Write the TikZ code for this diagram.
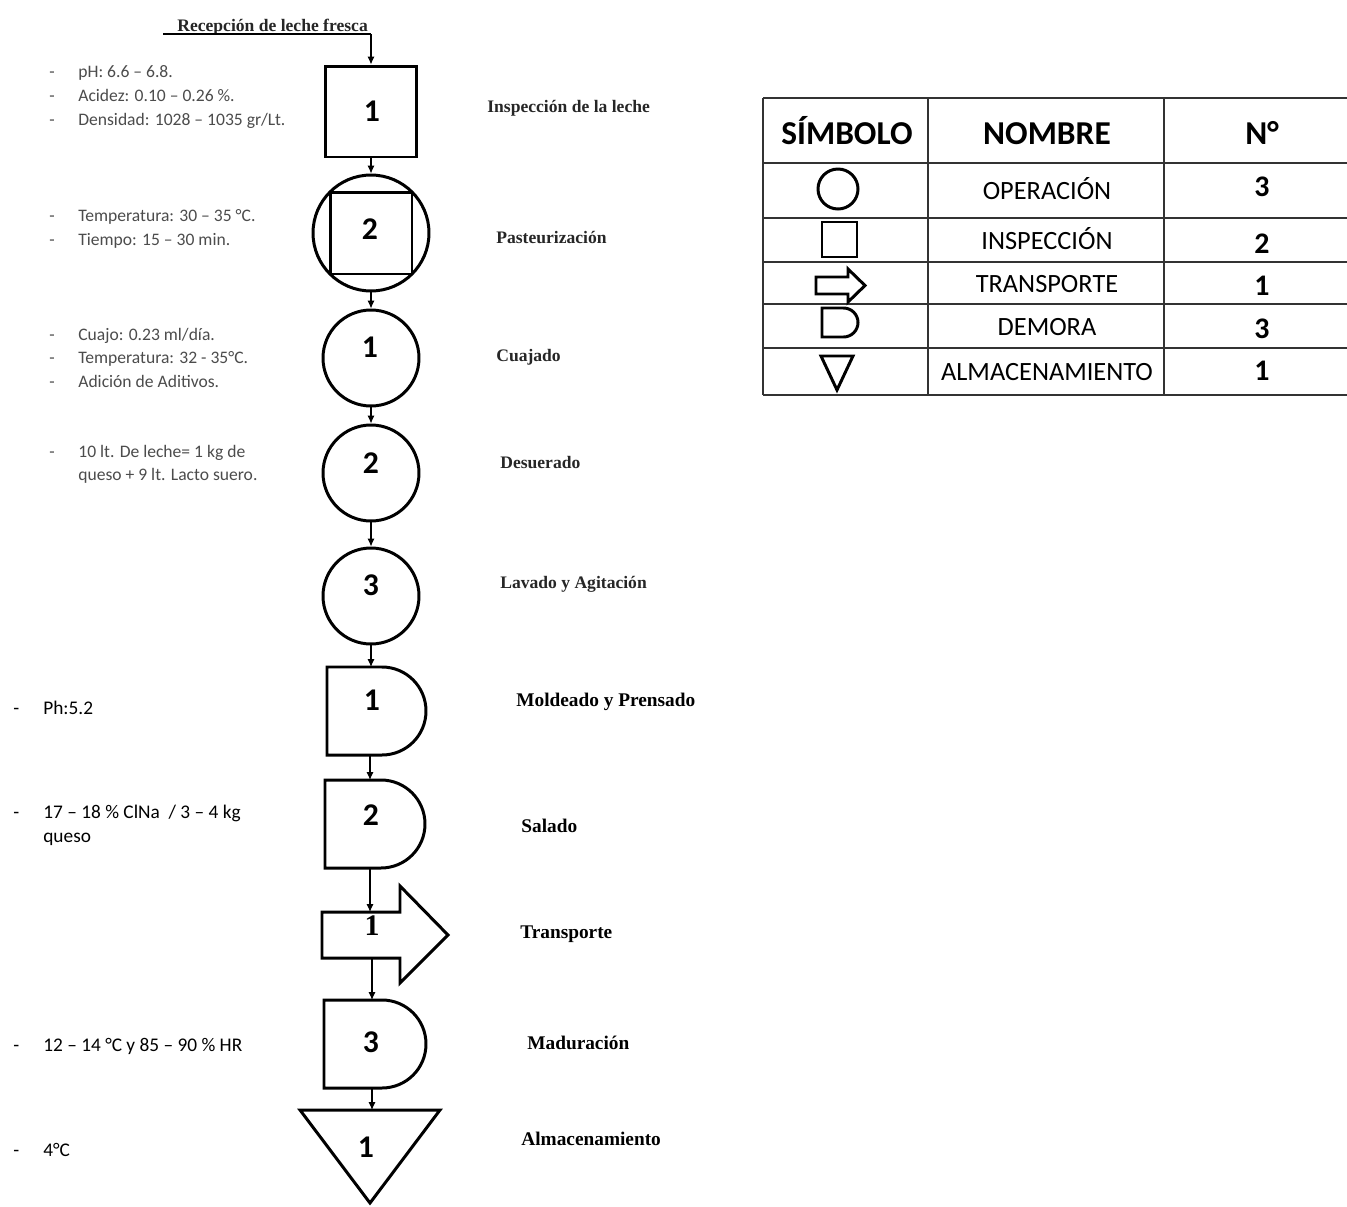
\documentclass[tikz,border=0pt]{standalone}
\usepackage{fontspec}
\setmainfont{Liberation Serif}
\newfontfamily\calibf{Carlito}
\usetikzlibrary{arrows.meta}
\begin{document}
\begin{tikzpicture}[x=0.02cm,y=0.02cm,
  shp/.style={draw=black,line width=1.7pt},
  sym/.style={draw=black,line width=1.7pt},
  tline/.style={draw=black!80,line width=0.6pt},
  conn/.style={line width=0.6pt,-{Latex[length=4.5pt,width=4pt]}},
  num/.style={inner sep=0pt,font=\calibf\bfseries\fontsize{18}{21}\selectfont},
  lab/.style={anchor=base west,inner sep=0pt,text=black!85,font=\bfseries\fontsize{10}{12}\selectfont},
  labB/.style={anchor=base west,inner sep=0pt,font=\bfseries\fontsize{11}{13}\selectfont},
  note/.style={anchor=base west,inner sep=0pt,text=black!70,font=\calibf\fontsize{10}{12}\selectfont},
  noteB/.style={anchor=base west,inner sep=0pt,font=\calibf\fontsize{11}{13}\selectfont},
  thead/.style={anchor=base,inner sep=0pt,font=\calibf\bfseries\fontsize{19}{22}\selectfont},
  tcell/.style={anchor=base,inner sep=0pt,font=\calibf\fontsize{15}{18}\selectfont},
  tnum/.style={anchor=base,inner sep=0pt,font=\calibf\bfseries\fontsize{17}{20}\selectfont}
]
\fill[white] (0,0) rectangle (1347,-1207);
\useasboundingbox (0,0) rectangle (1347,-1207);

% ---------- title ----------
\node[lab] (title) at (177,-31) {Recepción de leche fresca};
\coordinate (tstart) at (163,-34);

% ---------- flow shapes ----------
\node[shp,minimum size=1.82cm,inner sep=0pt] (b1) at (371,-111.5) {};
\node[num] (n1) at (372,-111) {1};

\node[shp,circle,minimum size=2.32cm,inner sep=0pt] (pc) at (371,-233) {};
\node[shp,minimum size=1.64cm,inner sep=0pt] (ps) at (371,-233) {};
\node[num] (n2) at (370,-229) {2};

\node[shp,circle,minimum size=1.92cm,inner sep=0pt] (c1) at (371,-358) {};
\node[num] (n3) at (370,-347) {1};

\node[shp,circle,minimum size=1.92cm,inner sep=0pt] (c2) at (371,-473) {};
\node[num] (n4) at (371,-463) {2};

\node[shp,circle,minimum size=1.92cm,inner sep=0pt] (c3) at (371,-596) {};
\node[num] (n5) at (371,-585) {3};

% delay 1
\draw[shp] (327,-667) -- (382,-667) arc[start angle=90,end angle=-90,radius=44] -- (327,-755) -- cycle;
\coordinate (d1t) at (371,-667);
\coordinate (d1b) at (370,-755);
\node[num] (n6) at (372,-700) {1};

% delay 2
\draw[shp] (325,-780) -- (381,-780) arc[start angle=90,end angle=-90,radius=44] -- (325,-868) -- cycle;
\coordinate (d2t) at (370,-780);
\coordinate (d2b) at (370,-868);
\node[num] (n7) at (371,-815) {2};

% transport
\draw[shp] (322,-912) -- (400,-912) -- (400,-886) -- (448,-935) -- (400,-983) -- (400,-958) -- (322,-958) -- cycle;
\coordinate (trt) at (370,-912);
\coordinate (trb) at (372,-958);
\node[inner sep=0pt,font=\bfseries\fontsize{17}{20}\selectfont] (n8) at (372,-926) {1};

% delay 3
\draw[shp] (324,-1000) -- (382,-1000) arc[start angle=90,end angle=-90,radius=44] -- (324,-1088) -- cycle;
\coordinate (d3t) at (372,-1000);
\coordinate (d3b) at (372,-1088);
\node[num] (n9) at (371,-1042) {3};

% storage triangle
\draw[shp] (300,-1110) -- (440,-1110) -- (370,-1203) -- cycle;
\coordinate (trit) at (372,-1110);
\node[num] (n10) at (366,-1147) {1};

% ---------- connectors ----------
\draw[line width=0.6pt] (tstart) -- (tstart -| b1.north);
\draw[conn] (tstart -| b1.north) -- (b1.north);
\draw[conn] (b1.south) -- (pc.north);
\draw[conn] (pc.south) -- (c1.north);
\draw[conn] (c1.south) -- (c2.north);
\draw[conn] (c2.south) -- (c3.north);
\draw[conn] (c3.south) -- (d1t);
\draw[conn] (d1b) -- (d2t);
\draw[conn] (d2b) -- (trt);
\draw[conn] (trb) -- (d3t);
\draw[conn] (d3b) -- (trit);

% ---------- right labels ----------
\node[lab] (l1) at (487,-112) {Inspección de la leche};
\node[lab] (l2) at (496,-243) {Pasteurización};
\node[lab] (l3) at (496,-361) {Cuajado};
\node[lab] (l4) at (500,-468) {Desuerado};
\node[lab] (l5) at (500,-588) {Lavado y Agitación};
\node[labB] (l6) at (516,-706) {Moldeado y Prensado};
\node[labB] (l7) at (521,-832) {Salado};
\node[labB] (l8) at (520,-938) {Transporte};
\node[labB] (l9) at (527,-1049) {Maduración};
\node[labB] (l10) at (521,-1145) {Almacenamiento};

% ---------- left notes (upper) ----------
\foreach \yy/\txt/\nm in {77/{pH: 6.6 – 6.8.}/a1, 101/{Acidez: 0.10 – 0.26 \%.}/a2, 125/{Densidad: 1028 – 1035 gr/Lt.}/a3,
  221/{Temperatura: 30 – 35 °C.}/a4, 245/{Tiempo: 15 – 30 min.}/a5,
  340/{Cuajo: 0.23 ml/día.}/a6, 363/{Temperatura: 32 - 35°C.}/a7, 387/{Adición de Aditivos.}/a8,
  457/{10 lt. De leche= 1 kg de}/a9}{
  \node[note] (\nm d) at (49,-\yy) {-};
  \node[note] (\nm) at (78,-\yy) {\txt};
}
\node[note] (a10) at (78,-480) {queso + 9 lt. Lacto suero.};

% ---------- left notes (lower) ----------
\foreach \yy/\txt/\nm in {714/{Ph:5.2}/b1n, 818/{17 – 18 \% ClNa~~/ 3 – 4 kg}/b2n, 1051/{12 – 14 °C y 85 – 90 \% HR}/b3n, 1156/{4°C}/b4n}{
  \node[noteB] (\nm d) at (13,-\yy) {-};
  \node[noteB] (\nm) at (43,-\yy) {\txt};
}
\node[noteB] (b5n) at (43,-842) {queso};

% ---------- table ----------
\foreach \yy in {98,163,218,262,304,348,395}{
  \draw[tline] (763,-\yy) -- (1347,-\yy);
}
\foreach \xx in {763,928,1164}{
  \draw[tline] (\xx,-98) -- (\xx,-395);
}
\node[thead] (h1) at (847,-144) {SÍMBOLO};
\node[thead] (h2) at (1047,-144) {NOMBRE};
\node[thead] (h3) at (1262,-144) {N°};

\node[tcell] (r1) at (1047,-199) {OPERACIÓN};
\node[tcell] (r2) at (1047,-249) {INSPECCIÓN};
\node[tcell] (r3) at (1047,-292) {TRANSPORTE};
\node[tcell] (r4) at (1047,-335) {DEMORA};
\node[tcell] (r5) at (1047,-380) {ALMACENAMIENTO};

\node[tnum] (q1) at (1262,-196) {3};
\node[tnum] (q2) at (1262,-253) {2};
\node[tnum] (q3) at (1262,-295) {1};
\node[tnum] (q4) at (1262,-338) {3};
\node[tnum] (q5) at (1262,-380) {1};

% table symbols
\draw[sym] (838,-189) circle[radius=20];
\draw[sym] (822,-222) rectangle (857,-257);
\draw[sym] (816,-277) -- (848,-277) -- (848,-269) -- (865,-285.5) -- (848,-302) -- (848,-294) -- (816,-294) -- cycle;
\draw[sym] (822,-308) -- (843.5,-308) arc[start angle=90,end angle=-90,radius=14.5] -- (822,-337) -- cycle;
\draw[sym] (821,-356) -- (853,-356) -- (837,-390) -- cycle;
\end{tikzpicture}
\end{document}
